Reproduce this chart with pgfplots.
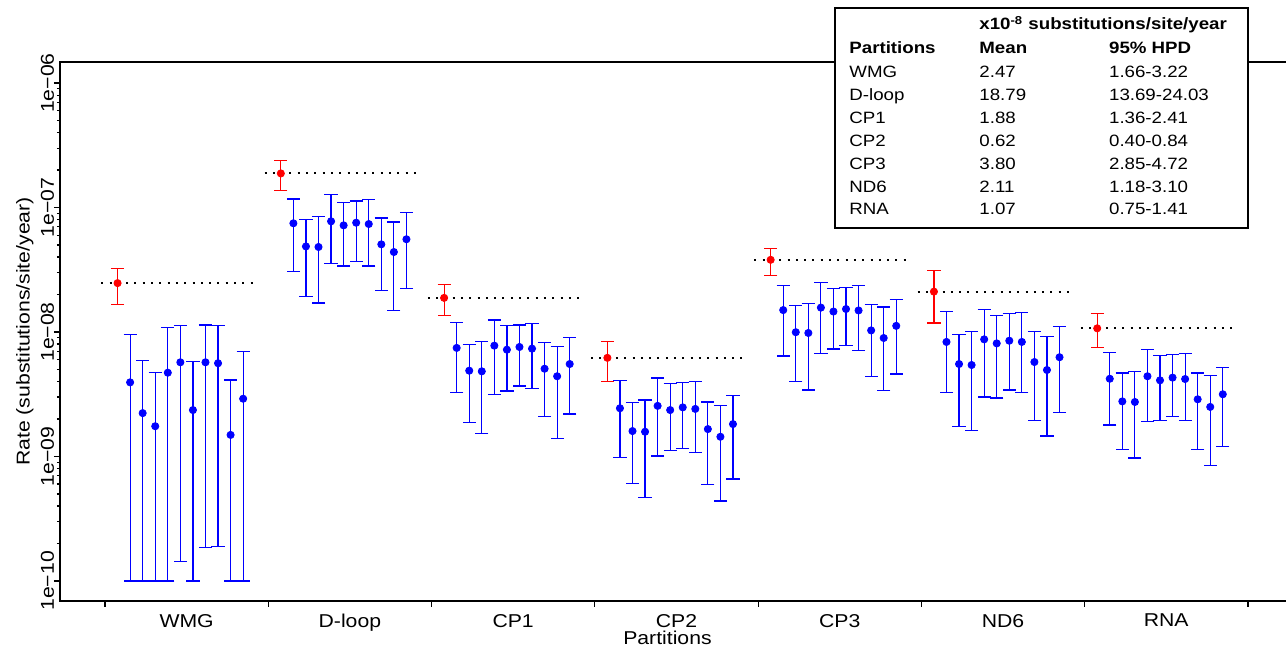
\documentclass[border=0pt]{standalone}
\usepackage{pgfplots}
\pgfplotsset{compat=1.18}
\usepackage{pgfplotstable}
\usepackage{fontspec}
\setmainfont{Liberation Sans}[FakeStretch=1.14]

% posterior rates per partition: mean, lower and upper HPD bound
\pgfplotstableread{
x y lo hi
2 3.94e-9 1.0e-10 9.6e-9
3 2.23e-9 1.0e-10 5.93e-9
4 1.75e-9 1.0e-10 4.74e-9
5 4.71e-9 1.0e-10 1.08e-8
6 5.71e-9 1.44e-10 1.12e-8
7 2.36e-9 1.0e-10 5.82e-9
8 5.71e-9 1.87e-10 1.14e-8
9 5.61e-9 1.90e-10 1.12e-8
10 1.49e-9 1.0e-10 4.11e-9
11 2.91e-9 1.0e-10 6.95e-9
15 7.47e-8 3.05e-8 1.17e-7
16 4.87e-8 1.92e-8 7.98e-8
17 4.82e-8 1.71e-8 8.44e-8
18 7.75e-8 3.54e-8 1.28e-7
19 7.19e-8 3.39e-8 1.10e-7
20 7.55e-8 3.67e-8 1.13e-7
21 7.37e-8 3.39e-8 1.16e-7
22 5.06e-8 2.15e-8 8.24e-8
23 4.39e-8 1.48e-8 7.65e-8
24 5.56e-8 2.23e-8 9.09e-8
28 7.45e-9 3.28e-9 1.20e-8
29 4.89e-9 1.87e-9 7.91e-9
30 4.83e-9 1.52e-9 8.41e-9
31 7.77e-9 3.16e-9 1.25e-8
32 7.21e-9 3.36e-9 1.12e-8
33 7.58e-9 3.68e-9 1.14e-8
34 7.35e-9 3.53e-9 1.17e-8
35 5.07e-9 2.11e-9 8.20e-9
36 4.41e-9 1.39e-9 7.62e-9
37 5.53e-9 2.19e-9 9.00e-9
41 2.44e-9 9.86e-10 4.06e-9
42 1.60e-9 6.05e-10 2.72e-9
43 1.58e-9 4.70e-10 2.84e-9
44 2.55e-9 1.01e-9 4.27e-9
45 2.36e-9 1.11e-9 3.85e-9
46 2.48e-9 1.16e-9 3.92e-9
47 2.41e-9 1.08e-9 3.99e-9
48 1.66e-9 5.98e-10 2.74e-9
49 1.44e-9 4.39e-10 2.58e-9
50 1.82e-9 6.60e-10 3.08e-9
54 1.50e-8 6.41e-9 2.35e-8
55 9.96e-9 4.03e-9 1.63e-8
56 9.82e-9 3.42e-9 1.70e-8
57 1.57e-8 6.70e-9 2.51e-8
58 1.46e-8 7.30e-9 2.24e-8
59 1.53e-8 7.76e-9 2.29e-8
60 1.49e-8 7.13e-9 2.35e-8
61 1.03e-8 4.41e-9 1.66e-8
62 8.95e-9 3.40e-9 1.59e-8
63 1.12e-8 4.60e-9 1.82e-8
67 8.32e-9 3.25e-9 1.47e-8
68 5.53e-9 1.73e-9 9.51e-9
69 5.43e-9 1.62e-9 1.01e-8
70 8.73e-9 3.00e-9 1.51e-8
71 8.10e-9 2.95e-9 1.35e-8
72 8.51e-9 3.42e-9 1.40e-8
73 8.32e-9 3.25e-9 1.43e-8
74 5.74e-9 1.95e-9 1.01e-8
75 4.95e-9 1.46e-9 9.16e-9
76 6.27e-9 2.26e-9 1.11e-8
80 4.21e-9 1.79e-9 6.83e-9
81 2.77e-9 1.13e-9 4.69e-9
82 2.74e-9 9.73e-10 4.83e-9
83 4.41e-9 1.92e-9 7.26e-9
84 4.09e-9 1.95e-9 6.46e-9
85 4.30e-9 2.08e-9 6.62e-9
86 4.19e-9 1.94e-9 6.75e-9
87 2.88e-9 1.13e-9 4.69e-9
88 2.50e-9 8.43e-10 4.46e-9
89 3.16e-9 1.21e-9 5.16e-9
}\reps

% combined estimate per partition
\pgfplotstableread{
x y lo hi
1 2.47e-8 1.66e-8 3.22e-8
14 1.879e-7 1.369e-7 2.403e-7
27 1.88e-8 1.36e-8 2.41e-8
40 6.2e-9 4.0e-9 8.4e-9
53 3.80e-8 2.85e-8 4.72e-8
66 2.11e-8 1.18e-8 3.10e-8
79 1.07e-8 7.5e-9 1.41e-8
}\comb

\newcommand{\tickfont}{\fontsize{9.3}{11}\selectfont}
\newcommand{\tabfont}{\fontsize{8.2}{10}\selectfont}

\begin{document}
\begin{tikzpicture}
\begin{axis}[
    at={(30pt,-300.5pt)}, anchor=south west,
    scale only axis,
    width=615pt, height=269.5pt,
    ymode=log,
    xmin=-3.583, xmax=94.35,
    ymin=6.9e-11, ymax=1.476e-6,
    axis line style={line width=0.6pt},
    tick align=outside,
    xtick pos=left, ytick pos=left,
    major tick length=3pt, minor tick length=1.5pt,
    every tick/.style={black, line width=0.6pt},
    xtick={0,13,...,91},
    xticklabels={WMG,D-loop,CP1,CP2,CP3,ND6,RNA,{}},
    xticklabel style={xshift=40.8pt},
    ytick={1e-10,1e-9,1e-8,1e-7,1e-6},
    yticklabels={1e−10,1e−09,1e−08,1e−07,1e−06},
    yticklabel style={rotate=90, anchor=base},
    tick label style={font=\tickfont},
    label style={font=\tickfont},
    xlabel={Partitions},
    xlabel style={at={(axis description cs:0.4939,-0.0798)}, anchor=base},
    ylabel={Rate (substitutions/site/year)},
    ylabel style={at={(axis description cs:-0.0248,0.5)}, anchor=base},
]

% reference lines at the combined means
\pgfplotsset{refline/.style={black, line width=1pt, dash pattern=on 1pt off 3.15pt, forget plot}}
\addplot[refline] coordinates {(-0.3,2.47e-8) (12,2.47e-8)};
\addplot[refline] coordinates {(12.7,1.879e-7) (25,1.879e-7)};
\addplot[refline] coordinates {(25.7,1.88e-8) (38,1.88e-8)};
\addplot[refline] coordinates {(38.7,6.2e-9) (51,6.2e-9)};
\addplot[refline] coordinates {(51.7,3.80e-8) (64,3.80e-8)};
\addplot[refline] coordinates {(64.7,2.11e-8) (77,2.11e-8)};
\addplot[refline] coordinates {(77.7,1.07e-8) (90,1.07e-8)};

\addplot[only marks, mark=*, mark size=1.8pt, blue,
    error bars/.cd, y dir=both, y explicit,
    error bar style={blue, line width=0.6pt},
    error mark options={rotate=90, mark size=3.3pt, blue, line width=0.6pt}]
    table[x=x, y=y, y error plus expr=\thisrow{hi}-\thisrow{y},
          y error minus expr=\thisrow{y}-\thisrow{lo}] {\reps};

\addplot[only marks, mark=*, mark size=1.8pt, red,
    error bars/.cd, y dir=both, y explicit,
    error bar style={red, line width=0.6pt},
    error mark options={rotate=90, mark size=3.3pt, red, line width=0.6pt}]
    table[x=x, y=y, y error plus expr=\thisrow{hi}-\thisrow{y},
          y error minus expr=\thisrow{y}-\thisrow{lo}] {\comb};
\end{axis}

% summary table, coordinates in reference pixels
\begin{scope}[x=0.5pt, y=-0.5pt, every node/.style={anchor=base west, inner sep=0pt, font=\tabfont}]
\draw[line width=0.6pt, fill=white] (835,8) rectangle (1248,228);
\node at (979,30) {\textbf{x10\textsuperscript{-8} substitutions/site/year}};
\node at (849,54) {\textbf{Partitions}};
\node at (979,54) {\textbf{Mean}};
\node at (1108.7,54) {\textbf{95\% HPD}};
\foreach \p/\m/\h [count=\i from 0] in {WMG/2.47/1.66-3.22, D-loop/18.79/13.69-24.03,
    CP1/1.88/1.36-2.41, CP2/0.62/0.40-0.84, CP3/3.80/2.85-4.72,
    ND6/2.11/1.18-3.10, RNA/1.07/0.75-1.41} {
  \node at (849,77.9+22.85*\i) {\p};
  \node at (979,77.9+22.85*\i) {\m};
  \node at (1108.7,77.9+22.85*\i) {\h};
}
\end{scope}

\pgfresetboundingbox
\path[use as bounding box] (0pt,0pt) rectangle (643pt,-328.5pt);
\end{tikzpicture}
\end{document}
